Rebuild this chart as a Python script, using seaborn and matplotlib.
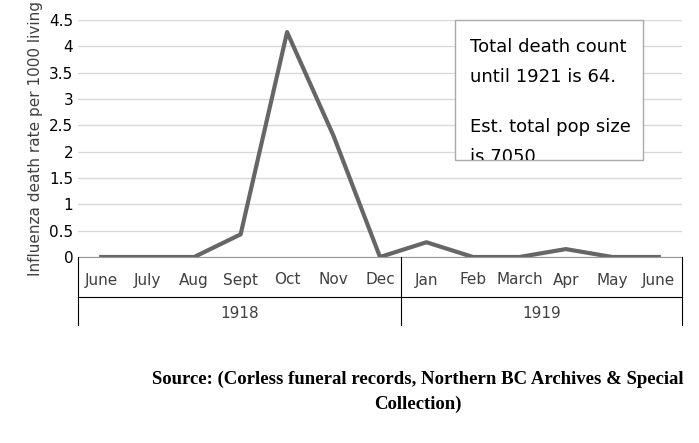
import matplotlib
matplotlib.use("Agg")
import matplotlib.pyplot as plt
import seaborn as sns
import pandas as pd
from matplotlib.patches import Rectangle

months = ["June","July","Aug","Sept","Oct","Nov","Dec","Jan","Feb","March","Apr","May","June"]
years = ["1918"]*7 + ["1919"]*6
rates = [0, 0, 0, 0.43, 4.27, 2.3, 0, 0.28, 0, 0, 0.15, 0, 0]
df = pd.DataFrame({"idx": range(len(months)), "rate": rates})

W, H = 699, 443
fig = plt.figure(figsize=(W/100, H/100), dpi=100)
L, R, T, B = 78/W, 682/W, 1-20/H, 1-257/H
ax = fig.add_axes([L, B, R-L, T-B])
sns.lineplot(data=df, x="idx", y="rate", ax=ax, color="#666666", linewidth=3)
ax.set_xlim(-0.5, 12.5)
ax.set_ylim(0, 4.5)
ax.set_yticks([0,0.5,1,1.5,2,2.5,3,3.5,4,4.5])
ax.set_yticklabels(["0","0.5","1","1.5","2","2.5","3","3.5","4","4.5"], fontsize=11)
ax.grid(axis="y", color="#d9d9d9", linewidth=1)
ax.set_axisbelow(True)
ax.set_xticks([]); ax.set_xlabel("")
for s in ["top","right"]: ax.spines[s].set_visible(False)
ax.spines["left"].set_visible(False)
ax.spines["bottom"].set_color("#999999")
ax.tick_params(axis="y", length=0)
ax.set_ylabel("Influenza death rate per 1000 living", fontsize=11, color="#404040")

def px(i):
    return (78 + (i+0.5)*(682-78)/13)/W
for i, m in enumerate(months):
    fig.text(px(i), 1-280/H, m, ha="center", va="center", fontsize=11, color="#404040")
fig.text((78+401)/2/W, 1-313/H, "1918", ha="center", va="center", fontsize=11, color="#404040")
fig.text((401+682)/2/W, 1-313/H, "1919", ha="center", va="center", fontsize=11, color="#404040")
for xp in [78, 401, 682]:
    fig.add_artist(plt.Line2D([xp/W, xp/W], [1-257/H, 1-325/H], color="#000000", linewidth=0.8))
fig.add_artist(plt.Line2D([78/W, 682/W], [1-297/H, 1-297/H], color="#000000", linewidth=0.8))

box = Rectangle((455/W, 1-160/H), 188/W, 140/H, transform=fig.transFigure,
                facecolor="white", edgecolor="#aaaaaa", linewidth=1)
fig.add_artist(box)
fig.text(470/W, 1-47/H, "Total death count", fontsize=13, va="center")
fig.text(470/W, 1-77/H, "until 1921 is 64.", fontsize=13, va="center")
fig.text(470/W, 1-127/H, "Est. total pop size", fontsize=13, va="center")
clipr = Rectangle((455/W, 1-160/H), 188/W, 140/H, transform=fig.transFigure)
t = fig.text(470/W, 1-157/H, "is 7050", fontsize=13, va="center", clip_on=True)
t.set_clip_path(clipr)

fig.text(418/W, 1-379/H, "Source: (Corless funeral records, Northern BC Archives & Special",
         ha="center", fontsize=13.5, fontweight="bold", family="Liberation Serif", va="center")
fig.text(418/W, 1-404/H, "Collection)", ha="center", fontsize=13.5, fontweight="bold",
         family="Liberation Serif", va="center")
fig.savefig("out.png", dpi=100)
